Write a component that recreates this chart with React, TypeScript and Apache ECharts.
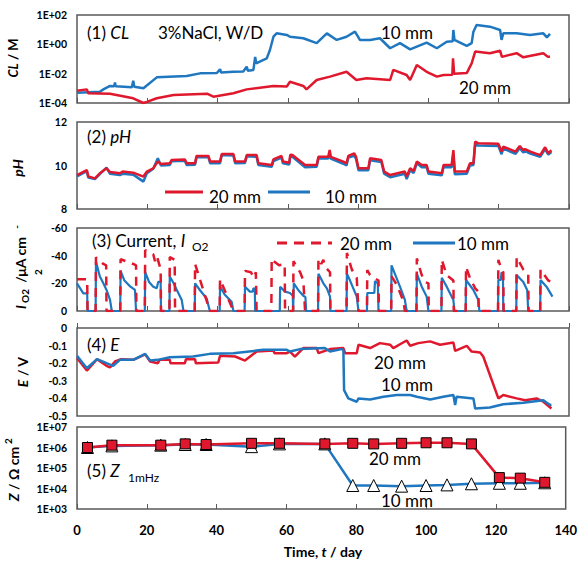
import React, { useEffect, useRef } from "react";
import * as echarts from "echarts";

const RED = "#e0182d";
const BLUE = "#1f77c0";
const FONT = 'Lato, "Noto Sans", sans-serif';

// Panel 1: CL (M), [day, value]
const cl10: [number, number][] = [
  [0, 5.0e-4], [6.5, 5.9e-4], [7.5, 8.5e-4], [9.4, 1.45e-3], [10.6, 1.4e-3], [10.8, 2.5e-3], [11, 1.4e-3],
  [12.2, 1.35e-3], [15.6, 1.2e-3], [16, 3.3e-3], [16.3, 1.3e-3], [18.9, 1.0e-3], [22.7, 5.6e-3], [31.2, 6.9e-3],
  [35, 1.05e-2], [39.8, 1.1e-2], [40.7, 2.0e-2], [41, 1.2e-2], [44.5, 1.35e-2], [47.3, 1.4e-2], [48.3, 3.0e-2],
  [48.6, 1.6e-2], [50.2, 1.8e-2], [50.7, 1.4e-1], [51, 5.0e-2], [52, 6.6e-2], [54, 1.1e-1], [54.9, 4.1e-1],
  [55.9, 3.3], [56.8, 5.6], [59.7, 4.4], [60.6, 3.3], [64.4, 2.6], [68.2, 1.2], [71.1, 5.6], [73.9, 2.0],
  [76.7, 3.3], [79.1, 7.3], [80.5, 2.0], [83.4, 2.0], [86.2, 2.6], [89.1, 0.54], [91.9, 1.2], [94.8, 0.45],
  [96.7, 0.7], [99.5, 1.3], [102.4, 0.54], [105.2, 1.5], [106.9, 1.6], [107.1, 9.5], [107.4, 2.0], [110.9, 0.78],
  [112.3, 1.2], [112.8, 7.3], [113.7, 21], [117.5, 16], [120.4, 9.5], [120.8, 2.0], [121.3, 5.6], [125.1, 5.6],
  [128.9, 4.4], [132.7, 5.6], [133.7, 3.0], [134.6, 5.2],
];
const cl20: [number, number][] = [
  [0, 6.9e-4], [2.8, 8.5e-4], [3.2, 4.6e-4], [9.4, 4.3e-4], [16, 2.1e-4], [18.9, 1.0e-4], [19.9, 1.2e-4],
  [22.7, 2.1e-4], [27.5, 3.5e-4], [37, 4.3e-4], [38.8, 2.7e-4], [44.5, 4.6e-4], [48.3, 8.5e-4], [55.9, 1.45e-3],
  [59.7, 1.35e-3], [60.6, 2.8e-3], [64.4, 1.45e-3], [65.3, 8.5e-4], [68.2, 3.7e-3], [72, 6.3e-3], [76.7, 1.35e-2],
  [79.5, 3.7e-3], [82.4, 4.8e-3], [89.1, 3.7e-3], [90, 1.8e-2], [93.8, 8.1e-3], [94.8, 3.7e-3], [96.7, 3.9e-2],
  [99.5, 1.35e-2], [102.4, 6.3e-3], [104.3, 8.1e-3], [106.8, 8.5e-3], [107, 1.1e-1], [107.3, 1.0e-2],
  [110.9, 1.1e-2], [112.3, 5.0e-2], [113.3, 3.2e-1], [117.5, 2.5e-1], [120.4, 3.7e-1], [120.9, 1.4e-1],
  [125.1, 2.5e-1], [127, 1.3e-1], [132.7, 2.5e-1], [134, 1.4e-1], [134.6, 1.5e-1],
];

// Panel 2: pH
const ph20: [number, number][] = [
  [0, 9.56], [2.8, 9.79], [3.2, 9.5], [5.1, 9.41], [6.5, 9.64], [8.4, 9.87], [9.4, 9.7], [12.2, 9.64], [13, 9.72],
  [16, 9.67], [18.9, 9.49], [19.9, 9.72], [21.7, 9.87], [23, 10.18], [23.9, 10.07], [26.4, 10.1], [26.9, 10.25],
  [30.7, 10.28], [31.2, 10.1], [33.6, 10.1], [34, 10.44], [37.4, 10.44], [37.9, 10.18], [40.7, 10.18], [41.2, 10.53],
  [44.5, 10.53], [45, 10.18], [47.8, 10.18], [48.3, 10.48], [51.1, 10.48], [51.6, 10.1], [55.4, 10.02], [55.9, 10.28],
  [58.2, 10.44], [58.6, 10.18], [60.4, 10.13], [60.7, 10.5], [61.3, 10.48], [64.9, 10.02], [68.2, 10.02], [68.7, 10.4],
  [71.5, 10.4], [71.9, 10.71], [72.2, 10.4], [75.8, 10.18], [76.7, 10.1], [77.2, 10.44], [78.9, 10.56], [79.4, 10.4],
  [80.1, 9.87], [82.9, 9.87], [83.4, 10.33], [86.6, 10.25], [87.4, 9.72], [89.1, 9.56], [93.3, 9.72], [93.8, 9.49],
  [94.8, 9.87], [95.8, 9.75], [96.7, 10.18], [98.1, 10.02], [99.5, 10.02], [100, 9.72], [103.8, 9.64], [104.3, 10.02],
  [106.6, 10.02], [107.1, 10.71], [107.5, 9.72], [110.9, 9.72], [111.8, 10.1], [112.8, 10.1], [113.3, 11.1],
  [114.2, 11.02], [119.9, 11.0], [120.8, 10.64], [121.3, 10.87], [124.8, 10.64], [126, 10.9], [127, 10.7],
  [127.5, 10.75], [129, 10.64], [131.8, 10.48], [133.2, 10.84], [134.1, 10.56], [135, 10.7],
];
const ph10: [number, number][] = [
  [0, 9.5], [2.8, 9.74], [3.2, 9.45], [5.1, 9.38], [6.5, 9.6], [8.4, 9.9], [9.4, 9.62], [12.2, 9.56], [13, 9.62],
  [16, 9.58], [18.9, 9.26], [19.9, 9.65], [21.7, 9.85], [23, 10.33], [23.9, 10.0], [26.4, 10.02], [26.9, 10.2],
  [30.7, 10.22], [31.2, 10.02], [33.6, 10.04], [34, 10.38], [37.4, 10.38], [37.9, 10.1], [40.7, 10.1], [41.2, 10.48],
  [44.5, 10.46], [45, 10.1], [47.8, 10.12], [48.3, 10.42], [51.1, 10.4], [51.6, 10.02], [55.4, 9.94], [55.9, 10.2],
  [58.2, 10.36], [58.6, 10.1], [60.4, 10.05], [60.7, 10.42], [61.3, 10.4], [64.9, 9.92], [68.2, 9.94], [68.7, 10.32],
  [71.5, 10.32], [71.9, 10.6], [72.2, 10.32], [75.8, 10.08], [76.7, 10.0], [77.2, 10.36], [78.9, 10.45], [79.4, 10.3],
  [80.1, 9.78], [82.9, 9.78], [83.4, 10.24], [86.6, 10.16], [87.4, 9.62], [89.1, 9.46], [93.3, 9.62], [93.8, 9.38],
  [94.8, 9.78], [95.8, 9.66], [96.7, 10.1], [98.1, 9.92], [99.5, 9.92], [100, 9.62], [103.8, 9.55], [104.3, 9.92],
  [106.6, 9.92], [107.1, 10.5], [107.5, 9.6], [110.9, 9.62], [111.8, 10.0], [112.8, 10.02], [113.3, 10.95],
  [114.2, 10.92], [119.9, 10.9], [120.8, 10.52], [121.3, 10.78], [124.8, 10.54], [126, 10.8], [127, 10.6],
  [127.5, 10.66], [129, 10.55], [131.8, 10.4], [133.2, 10.75], [134.1, 10.5], [135, 10.62],
];

// Panel 3: current I_O2 (µA cm-2)
const cur10: [number, number][] = [
  [0, -20], [1.8, -12.8], [2.9, -12.8], [3.0, 0],
  [5.3, 0], [5.4, -35.7], [6.5, -25], [7.5, -20], [8.4, -15.2], [9.4, -8], [9.9, 0],
  [12.3, 0], [12.4, -29], [13.5, -22], [15, -18], [16.5, -15.2], [16.8, 0],
  [19.3, 0], [19.4, -28], [20.5, -21], [21.7, -17.6], [22.7, -16.4], [23.1, -21], [23.8, -21], [23.9, 0],
  [26.3, 0], [26.4, -25], [27.5, -20], [28.4, -15.2], [29.8, -8], [30.3, 0],
  [33.5, 0], [33.6, -20], [35, -15], [36.9, -9], [37.8, 0],
  [40.6, 0], [40.7, -17.6], [42, -12], [44, -6.7], [44.5, 0],
  [47.7, 0], [47.8, -17.6], [49.2, -14], [50.0, -14], [50.2, -16.4], [50.6, -16], [50.7, 0],
  [57.7, 0], [57.8, -17.6], [59.2, -14], [60.6, -13], [61.4, -11], [61.5, 0],
  [61.6, 0], [61.7, -20], [63, -15], [64.4, -11], [65, -10], [65.2, 0],
  [68.6, 0], [68.7, -27], [70.1, -20], [71.1, -16.4], [72, -10.4], [72.1, 0],
  [76.7, 0], [76.8, -27], [77.7, -22], [79.6, -10.4], [80.1, 0],
  [82.5, 0], [82.6, -13], [84.6, -13], [84.8, -21.6], [85.6, -20], [85.8, 0],
  [89.4, 0], [89.5, -33], [91.9, -17.6], [93.3, -8], [93.8, 0],
  [96.6, 0], [96.7, -27], [98.1, -17.6], [99.5, -10.4], [100, 0],
  [103.7, 0], [103.8, -24], [105.2, -17.6], [107.1, -8], [107.4, 0],
  [110.6, 0], [110.7, -22.4], [112.8, -15.2], [114.2, -8], [114.5, 0],
  [119.8, 0], [119.9, -22.4], [120.6, -22.4], [120.8, -28], [121.2, -27], [121.3, 0],
  [125, 0], [125.1, -26], [127, -21], [128.1, -15.2], [128.4, 0],
  [131.8, 0], [131.9, -22.4], [133.6, -17.6], [135.3, -10.4],
];
const cur20: [number, number][] = [
  [0, -23], [2.9, -23], [3.0, 0],
  [5.3, 0], [5.4, -38.8], [7.5, -34], [8.3, -33], [8.4, 0],
  [12.3, 0], [12.4, -37.4], [16, -34], [16.8, -33], [16.9, 0],
  [19.3, 0], [19.4, -44], [21.7, -41], [22.2, -36], [22.7, -40], [23.8, -30], [23.9, 0],
  [26.3, 0], [26.4, -39], [27.8, -37], [27.9, 0],
  [33.5, 0], [33.6, -34], [37.8, 0],
  [40.6, 0], [40.7, -23], [44.5, 0],
  [47.7, 0], [47.8, -29], [49.5, -28], [50.3, -24], [50.9, -28], [51.1, 0],
  [55.3, 0], [55.4, -38], [56, -36], [57.5, -33], [59.1, -34], [59.2, 0],
  [61.5, 0], [61.6, -36], [63.5, -28], [64.4, -22], [64.9, 0],
  [68.6, 0], [68.7, -38], [69.5, -34], [70.1, -37], [70.6, -32], [72, -28], [72.1, 0],
  [76.7, 0], [76.8, -42], [78.2, -30], [79.6, -24], [80.1, 0],
  [82.5, 0], [82.6, -29.6], [83.4, -26], [84.8, -23.6], [85.8, -22], [85.9, 0],
  [89.4, 0], [89.5, -25], [91, -19], [92.9, -7], [93.3, 0],
  [96.6, 0], [96.7, -38], [98.1, -26], [99, -21], [100, -20], [100.1, 0],
  [103.7, 0], [103.8, -37], [105.2, -26], [107.1, -22], [107.2, 0],
  [110.6, 0], [110.7, -32], [111.8, -24], [113.3, -16.4], [114.2, -14], [114.3, 0],
  [119.8, 0], [119.9, -37], [120.8, -30], [121.3, -28], [121.4, 0],
  [125, 0], [125.1, -39], [127, -30], [128.4, -27], [128.5, 0],
  [131.8, 0], [131.9, -30], [134.1, -22], [135.3, -21],
];

// Panel 4: E (V)
const e10: [number, number][] = [
  [0, -0.158], [2.8, -0.229], [5.7, -0.177], [8.4, -0.2], [10.3, -0.215], [12.2, -0.181], [16, -0.181],
  [19.4, -0.147], [20.8, -0.185], [23, -0.181], [26.4, -0.166], [33, -0.162], [37.8, -0.147], [44.5, -0.143],
  [53, -0.124], [59.7, -0.124], [60.6, -0.134], [63.5, -0.12], [70.5, -0.114], [72, -0.134], [75.3, -0.12],
  [75.8, -0.125], [76, -0.353], [77.2, -0.4], [79.6, -0.419], [80.1, -0.4], [83.4, -0.406], [87.2, -0.391],
  [91, -0.381], [94.8, -0.381], [96.7, -0.391], [100.5, -0.406], [104.2, -0.391], [107.1, -0.381],
  [107.6, -0.438], [108, -0.391], [112.8, -0.4], [113.3, -0.457], [117.5, -0.452], [121.3, -0.433],
  [127, -0.425], [132.7, -0.41], [134.6, -0.438], [135, -0.436],
];
const e20: [number, number][] = [
  [0, -0.171], [2.8, -0.242], [5.7, -0.177], [8.4, -0.215], [9.4, -0.224], [10.8, -0.19], [12.6, -0.177],
  [16, -0.181], [19.4, -0.15], [20.8, -0.19], [23, -0.2], [23.5, -0.181], [26.4, -0.181], [26.6, -0.2],
  [30.7, -0.2], [31, -0.177], [33.6, -0.177], [33.8, -0.2], [40.2, -0.196], [40.7, -0.158], [45, -0.162],
  [47.8, -0.185], [51.1, -0.134], [55.9, -0.128], [56.2, -0.143], [59.7, -0.143], [60.6, -0.134], [62, -0.162],
  [64.4, -0.114], [68.2, -0.114], [68.7, -0.143], [72, -0.12], [75.8, -0.114], [76.3, -0.143], [79.6, -0.143],
  [80.1, -0.095], [83.4, -0.114], [86.2, -0.086], [89.1, -0.095], [90, -0.114], [93.8, -0.071], [94.8, -0.101],
  [97.1, -0.086], [100.5, -0.076], [103.3, -0.095], [107.1, -0.082], [107.6, -0.13], [110.9, -0.101],
  [112.3, -0.134], [114.7, -0.139], [115.6, -0.162], [119.9, -0.4], [121.3, -0.381], [125.1, -0.4],
  [127.5, -0.41], [130.8, -0.4], [132.7, -0.419], [135, -0.457],
];

// Panel 5: Z at 1 mHz (Ω cm2)
const zDays = [3, 10, 24, 31, 37, 50, 58, 71, 79, 85, 93, 100, 106, 113, 121, 127, 134];
const z20 = [1.0e6, 1.3e6, 1.3e6, 1.5e6, 1.4e6, 1.6e6, 1.6e6, 1.5e6, 1.6e6, 1.5e6, 1.6e6, 1.7e6, 1.7e6, 1.5e6, 3.4e4, 3.2e4, 2.0e4];
const z10 = [1.0e6, 1.2e6, 1.3e6, 1.4e6, 1.4e6, 1.1e6, 1.5e6, 1.5e6, 1.4e4, 1.4e4, 1.3e4, 1.4e4, 1.5e4, 1.7e4, 1.8e4, 1.8e4, 1.9e4];

const xTickLabels = ["0", "20", "40", "60", "80", "100", "120", "140"];

const grids = [
  { top: 15, height: 88 },
  { top: 122, height: 87 },
  { top: 228, height: 83 },
  { top: 328, height: 88 },
  { top: 427, height: 82 },
];

function expFmt(v: number) {
  const e = Math.round(Math.log10(v));
  return "1E" + (e < 0 ? "-" : "+") + String(Math.abs(e)).padStart(2, "0");
}

function txt(text: string, x: number, y: number, o: any = {}) {
  const size = o.size || 17;
  const weight = o.bold ? "bold" : "normal";
  return {
    type: "text",
    x,
    y,
    rotation: o.rot ? Math.PI / 2 : 0,
    z: 100,
    style: {
      text,
      fill: "#000",
      fontSize: size,
      fontFamily: FONT,
      fontWeight: weight,
      fontStyle: o.italic ? "italic" : "normal",
      align: o.align || "left",
      verticalAlign: "middle",
      rich: {
        n: { fontSize: size, fontFamily: FONT, fontWeight: weight, fontStyle: "normal" },
        i: { fontSize: size, fontFamily: FONT, fontWeight: weight, fontStyle: "italic" },
      },
    },
  };
}

function seg(x1: number, y1: number, x2: number, y2: number, color: string, dash?: number[]) {
  return {
    type: "line",
    z: 100,
    shape: { x1, y1, x2, y2 },
    style: { stroke: color, lineWidth: 3, lineDash: dash },
  };
}

export default function App() {
  const ref = useRef<HTMLDivElement>(null);
  useEffect(() => {
    if (!ref.current) return;
    const chart = echarts.init(ref.current, undefined, { renderer: "svg" });

    const xAxis = grids.map((_, i) => ({
      type: "value",
      gridIndex: i,
      min: 0,
      max: 140,
      interval: 20,
      axisLine: { show: false },
      axisTick: { show: true, inside: true, length: 5, lineStyle: { color: "#595959", width: 1 } },
      splitLine: { show: false },
      axisLabel: {
        show: i === 4,
        fontFamily: FONT,
        fontWeight: "bold",
        fontSize: 13,
        color: "#000",
        margin: 14,
        formatter: (v: number) => xTickLabels[Math.round(v / 20)] ?? String(v),
      },
    }));

    const yCommon = {
      axisLine: { show: false },
      axisTick: { show: false },
      splitLine: { show: false },
    };
    const lab = (fmt: any) => ({
      fontFamily: FONT,
      fontWeight: "bold",
      fontSize: 10.5,
      lineHeight: 10,
      color: "#000",
      margin: 10,
      formatter: fmt,
    });
    const yAxis = [
      { ...yCommon, type: "log", gridIndex: 0, logBase: 100, min: 1e-4, max: 1e2, axisLabel: lab(expFmt) },
      { ...yCommon, type: "value", gridIndex: 1, min: 8, max: 12, interval: 2, axisLabel: lab((v: number) => String(v)) },
      { ...yCommon, type: "value", gridIndex: 2, min: -60, max: 0, interval: 20, inverse: true, axisLabel: lab((v: number) => String(v)) },
      { ...yCommon, type: "value", gridIndex: 3, min: -0.5, max: 0, interval: 0.1, axisLabel: lab((v: number) => (Math.abs(v) < 1e-9 ? "0" : v.toFixed(1))) },
      { ...yCommon, type: "log", gridIndex: 4, logBase: 10, min: 1e3, max: 1e7, axisLabel: lab(expFmt) },
    ];

    const line = (data: any, idx: number, color: string, width: number, extra: any = {}) => ({
      type: "line",
      xAxisIndex: idx,
      yAxisIndex: idx,
      data,
      showSymbol: false,
      symbol: "none",
      clip: true,
      lineStyle: { color, width, ...(extra.lineStyle || {}) },
      itemStyle: { color },
    });

    const series: any[] = [
      line(cl10, 0, BLUE, 2.5),
      line(cl20, 0, RED, 2.5),
      line(ph10, 1, BLUE, 2.5),
      line(ph20, 1, RED, 2.5),
      line(cur10, 2, BLUE, 2.2),
      line(cur20, 2, RED, 2.5, { lineStyle: { type: [9, 7] } }),
      line(e20, 3, RED, 2.5),
      line(e10, 3, BLUE, 2.5),
      {
        type: "line",
        xAxisIndex: 4,
        yAxisIndex: 4,
        data: zDays.map((d, i) => [d, z10[i]]),
        symbol: "triangle",
        symbolSize: 12,
        showSymbol: true,
        lineStyle: { color: BLUE, width: 2.5 },
        itemStyle: { color: "#ffffff", borderColor: "#000", borderWidth: 1 },
      },
      {
        type: "line",
        xAxisIndex: 4,
        yAxisIndex: 4,
        data: zDays.map((d, i) => [d, z20[i]]),
        symbol: "rect",
        symbolSize: 10,
        showSymbol: true,
        lineStyle: { color: RED, width: 2.5 },
        itemStyle: { color: RED, borderColor: "#000", borderWidth: 1 },
      },
    ];

    const graphic: any[] = [
      // panel 1
      txt("{n|(1) }{i|CL}", 87, 32),
      txt("3%NaCl, W/D", 158, 32),
      txt("10 mm", 407, 32, { align: "center" }),
      txt("20 mm", 485, 87, { align: "center" }),
      // panel 2
      txt("{n|(2) }{i|pH}", 87, 136),
      seg(165, 192, 203, 192, RED),
      txt("20 mm", 209, 196),
      seg(268, 192, 310, 192, BLUE),
      txt("10 mm", 325, 196),
      // panel 3
      txt("{n|(3) Current, }{i|I}", 92, 240),
      txt("O2", 192, 246, { size: 12 }),
      seg(277, 243, 332, 243, RED, [10, 7]),
      txt("20 mm", 340, 243),
      seg(413, 243, 455, 243, BLUE),
      txt("10 mm", 457, 243),
      // panel 4
      txt("{n|(4) }{i|E}", 87, 344),
      txt("20 mm", 400, 362, { align: "center" }),
      txt("10 mm", 407, 384, { align: "center" }),
      // panel 5
      txt("{n|(5) }{i|Z}", 87, 470),
      txt("1mHz", 128, 477, { size: 12 }),
      txt("20 mm", 395, 458, { align: "center" }),
      txt("10 mm", 407, 500, { align: "center" }),
      // y-axis names
      txt("{i|CL}{n| / M}", 13, 58, { rot: true, bold: true, size: 13, align: "center" }),
      txt("pH", 17, 168, { rot: true, bold: true, italic: true, size: 14, align: "center" }),
      txt("I", 20, 307, { rot: true, bold: true, italic: true, size: 14, align: "center" }),
      txt("O2", 25, 296, { rot: true, bold: true, size: 10, align: "center" }),
      txt("/μA cm", 20, 260, { rot: true, bold: true, size: 14, align: "center" }),
      txt("-", 16, 227, { rot: true, bold: true, size: 10, align: "center" }),
      txt("2", 38, 272, { rot: true, bold: true, size: 10, align: "center" }),
      txt("{i|E}{n| / V}", 22, 372, { rot: true, bold: true, size: 14, align: "center" }),
      txt("{i|Z}{n| / Ω cm}", 13, 474, { rot: true, bold: true, size: 14, align: "center" }),
      txt("2", 8, 441, { rot: true, bold: true, size: 10, align: "center" }),
      // x title
      txt("{n|Time, }{i|t}{n| / day}", 323, 551, { bold: true, size: 14, align: "center" }),
    ];

    chart.setOption({
      animation: false,
      backgroundColor: "#ffffff",
      grid: grids.map((g) => ({
        left: 77,
        width: 492,
        top: g.top,
        height: g.height,
        show: true,
        borderColor: "#595959",
        borderWidth: 1.5,
        backgroundColor: "transparent",
      })),
      xAxis,
      yAxis,
      series,
      graphic,
    });
    return () => chart.dispose();
  }, []);

  return (
    <div
      ref={ref}
      style={{ position: "fixed", left: 0, top: 0, width: 580, height: 561, background: "#fff" }}
    />
  );
}
